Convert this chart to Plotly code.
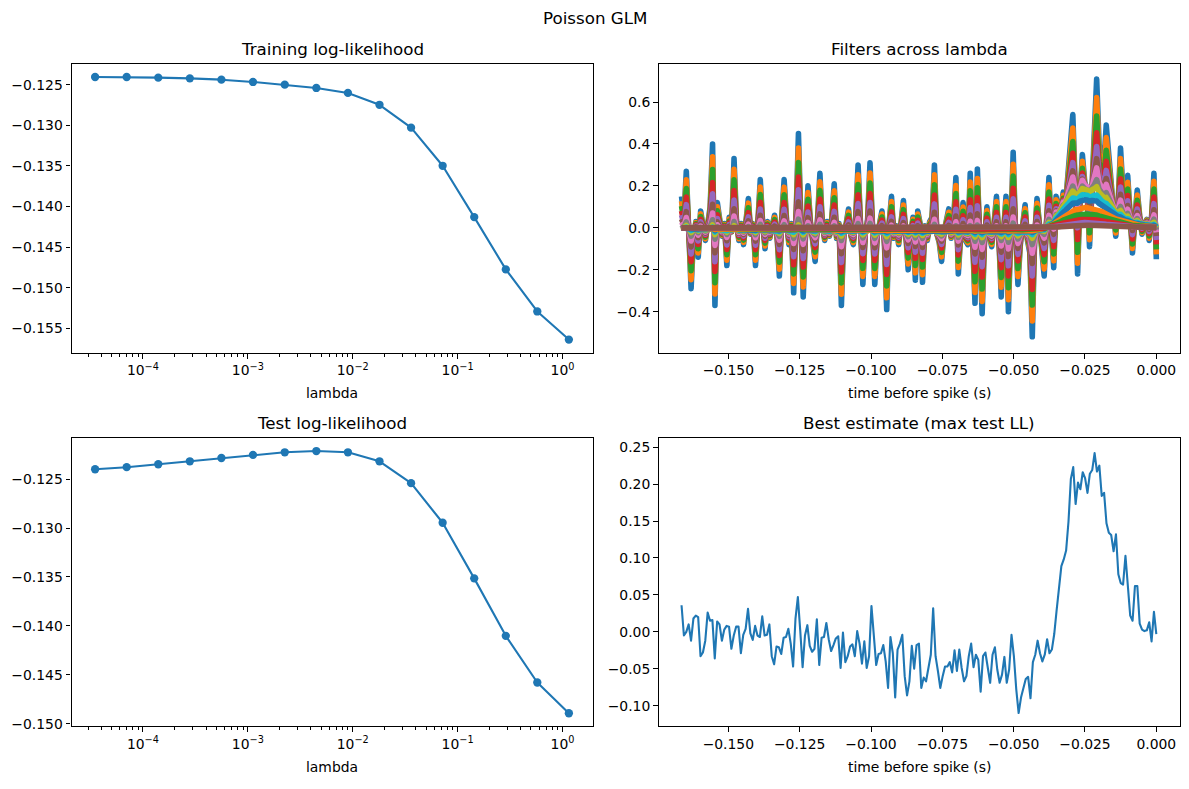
import numpy as np
import plotly.graph_objects as go

# ---------------- data ----------------
lambdas = [3.5e-5, 7.0e-5, 1.4e-4, 2.8e-4, 5.6e-4, 1.12e-3, 2.25e-3, 4.5e-3,
           9.0e-3, 1.8e-2, 3.6e-2, 7.2e-2, 0.144, 0.288, 0.575, 1.15]

train_ll = [-0.12406, -0.12406, -0.12414, -0.12423, -0.12439, -0.12467, -0.12500, -0.12541,
            -0.12602, -0.12748, -0.13029, -0.13498, -0.14129, -0.14772, -0.15289, -0.15635]

test_ll = [-0.12399, -0.12378, -0.12348, -0.12318, -0.12284, -0.12253, -0.12226, -0.12213,
           -0.12226, -0.12318, -0.12541, -0.12946, -0.13514, -0.14101, -0.14578, -0.14892]

# least-regularised filter (outermost envelope in "Filters across lambda")
raw_filter = [
    0.15, 0.05, 0.27, 0.02, -0.29, -0.05, 0.03, -0.14, 0.08, 0.01,
    -0.06, 0.02, 0.10, 0.40, -0.37, 0.12, 0.03, -0.04, 0.02, -0.18,
    0.05, -0.02, 0.33, 0.04, -0.06, 0.02, -0.08, 0.04, 0.14, -0.03,
    0.02, -0.18, 0.05, 0.23, 0.02, -0.10, 0.03, -0.05, 0.01, 0.06,
    -0.03, -0.23, 0.05, 0.23, 0.04, -0.08, 0.02, -0.31, 0.05, 0.45,
    0.03, -0.33, -0.02, 0.20, 0.03, -0.05, -0.16, 0.04, 0.26, 0.02,
    -0.06, 0.03, -0.04, 0.05, 0.21, -0.05, 0.02, -0.37, -0.03, 0.02,
    0.09, -0.04, -0.08, 0.05, 0.30, 0.02, -0.27, -0.03, 0.04, 0.31,
    0.03, -0.27, -0.04, 0.02, 0.08, -0.06, -0.39, 0.02, 0.15, -0.05,
    0.01, -0.08, 0.03, 0.13, -0.03, -0.20, -0.04, 0.05, -0.25, 0.08,
    0.02, -0.26, 0.01, -0.06, 0.03, 0.05, 0.30, -0.03, -0.07, -0.16,
    -0.02, 0.03, 0.09, -0.05, 0.02, 0.24, -0.22, -0.04, 0.12, -0.06,
    -0.08, 0.26, 0.02, -0.36, 0.28, -0.05, -0.41, -0.06, 0.10, -0.04,
    -0.09, 0.02, 0.15, -0.05, -0.33, -0.02, 0.15, -0.40, -0.04, 0.36,
    -0.02, -0.27, -0.08, 0.01, 0.11, -0.06, -0.12, -0.52, -0.05, 0.14,
    0.02, -0.07, -0.23, 0.03, 0.24, -0.02, -0.19, 0.15, 0.04, 0.10,
    0.17, 0.12, 0.25, 0.38, 0.54, 0.20, -0.22, 0.15, 0.35, 0.22,
    0.18, -0.09, 0.28, 0.45, 0.71, 0.40, 0.33, 0.30, 0.49, 0.36,
    0.22, 0.15, -0.04, 0.12, 0.38, 0.18, 0.10, 0.25, 0.05, -0.12,
    0.04, 0.18, 0.06, -0.03, 0.02, 0.04, -0.06, 0.05, 0.26, -0.15,
]

# smooth component left at strong regularisation (normalised)
smooth_filter = [
    -0.02, -0.02, -0.03, -0.03, -0.03, -0.04, -0.04, -0.04, -0.05, -0.05,
    -0.05, -0.05, -0.05, -0.06, -0.06, -0.06, -0.06, -0.06, -0.06, -0.06,
    -0.06, -0.06, -0.06, -0.06, -0.06, -0.06, -0.06, -0.07, -0.07, -0.07,
    -0.07, -0.07, -0.07, -0.07, -0.07, -0.07, -0.07, -0.07, -0.08, -0.08,
    -0.08, -0.08, -0.08, -0.08, -0.08, -0.08, -0.08, -0.08, -0.08, -0.08,
    -0.08, -0.08, -0.08, -0.09, -0.09, -0.09, -0.09, -0.09, -0.09, -0.09,
    -0.09, -0.09, -0.10, -0.10, -0.10, -0.10, -0.10, -0.10, -0.10, -0.10,
    -0.10, -0.10, -0.10, -0.10, -0.10, -0.10, -0.10, -0.10, -0.10, -0.10,
    -0.11, -0.11, -0.11, -0.11, -0.11, -0.11, -0.11, -0.11, -0.11, -0.11,
    -0.11, -0.11, -0.11, -0.11, -0.11, -0.11, -0.11, -0.11, -0.11, -0.11,
    -0.12, -0.12, -0.12, -0.12, -0.12, -0.12, -0.12, -0.12, -0.12, -0.12,
    -0.12, -0.12, -0.12, -0.12, -0.12, -0.12, -0.12, -0.12, -0.12, -0.12,
    -0.13, -0.13, -0.13, -0.13, -0.13, -0.13, -0.13, -0.13, -0.13, -0.13,
    -0.13, -0.13, -0.13, -0.13, -0.13, -0.13, -0.13, -0.13, -0.13, -0.13,
    -0.13, -0.13, -0.13, -0.13, -0.13, -0.12, -0.12, -0.11, -0.10, -0.09,
    -0.07, -0.05, -0.02, 0.02, 0.07, 0.13, 0.20, 0.28, 0.37, 0.46,
    0.55, 0.63, 0.71, 0.78, 0.84, 0.89, 0.93, 0.96, 0.98, 1.00,
    1.00, 0.99, 0.97, 0.94, 0.90, 0.85, 0.80, 0.74, 0.68, 0.62,
    0.56, 0.50, 0.45, 0.40, 0.35, 0.31, 0.27, 0.24, 0.21, 0.18,
    0.16, 0.14, 0.12, 0.11, 0.10, 0.09, 0.08, 0.07, 0.06, 0.05,
]

# per-lambda weights of the detailed and smooth parts (read from layer heights)
detail_weight = [1.0, 0.85, 0.70, 0.55, 0.42, 0.30, 0.20, 0.12,
                 0.06, 0.03, 0.015, 0.007, 0.003, 0.001, 0.0, 0.0]
smooth_weight = [0.0, 0.02, 0.04, 0.07, 0.10, 0.13, 0.16, 0.16,
                 0.17, 0.15, 0.13, 0.095, 0.065, 0.04, 0.025, 0.012]

best_filter = [
    0.036, -0.005, 0.000, 0.010, -0.012, 0.018, 0.022, 0.020, -0.033, -0.028,
    -0.012, 0.026, 0.015, 0.016, -0.036, 0.014, 0.010, -0.012, 0.003, 0.008,
    0.007, -0.023, -0.005, 0.007, 0.007, -0.029, -0.004, 0.004, 0.031, -0.002,
    -0.011, 0.008, -0.005, -0.007, 0.021, -0.005, -0.004, 0.010, -0.033, -0.044,
    -0.020, -0.021, -0.030, -0.008, -0.007, 0.004, -0.016, -0.047, 0.018, 0.047,
    0.002, -0.048, -0.005, 0.009, -0.019, -0.027, -0.023, 0.017, -0.045, -0.008,
    -0.007, 0.012, -0.010, -0.026, -0.018, -0.009, -0.006, -0.049, -0.001, -0.041,
    -0.033, -0.020, -0.017, -0.033, 0.001, -0.016, -0.043, -0.013, -0.049, -0.033,
    0.035, -0.002, -0.045, -0.030, -0.029, -0.018, -0.040, -0.076, -0.007, -0.029,
    -0.089, -0.024, -0.016, -0.004, -0.060, -0.086, -0.067, -0.019, -0.050, -0.018,
    -0.016, -0.076, -0.062, -0.067, -0.049, -0.031, 0.032, -0.033, -0.053, -0.076,
    -0.060, -0.047, -0.047, -0.041, -0.055, -0.025, -0.053, -0.024, -0.049, -0.067,
    -0.060, -0.033, -0.016, -0.048, -0.031, -0.038, -0.081, -0.033, -0.028, -0.051,
    -0.069, -0.031, -0.021, -0.051, -0.069, -0.058, -0.034, -0.069, -0.051, -0.004,
    -0.033, -0.078, -0.110, -0.089, -0.078, -0.064, -0.061, -0.090, -0.041, -0.031,
    -0.012, -0.029, -0.040, -0.031, -0.010, -0.029, -0.024, -0.003, 0.029, 0.058,
    0.089, 0.098, 0.110, 0.149, 0.207, 0.223, 0.173, 0.202, 0.193, 0.216,
    0.208, 0.188, 0.214, 0.219, 0.242, 0.217, 0.225, 0.184, 0.188, 0.147,
    0.134, 0.131, 0.109, 0.132, 0.078, 0.066, 0.064, 0.103, 0.056, 0.022,
    0.015, 0.062, 0.062, 0.011, 0.003, 0.001, 0.002, 0.013, -0.013, 0.027, -0.003,
]

first_lag = -0.1664  # seconds before spike of the first filter tap

# ---------------- figure ----------------
W, H = 1189, 789
colors = ['#1f77b4', '#ff7f0e', '#2ca02c', '#d62728', '#9467bd',
          '#8c564b', '#e377c2', '#7f7f7f', '#bcbd22', '#17becf']
BLUE = '#1f77b4'
FONT = 'DejaVu Sans'
TICK = 13.9
TITLE = 16.7

def px_x(p):
    return p / W

def px_y(p):
    return 1 - p / H

xl = [px_x(71.5), px_x(592.5)]
xr = [px_x(659), px_x(1180)]
yt = [px_y(355), px_y(64.3)]
yb = [px_y(731), px_y(440.7)]

fig = go.Figure()

# training LL
fig.add_trace(go.Scatter(x=lambdas, y=train_ll, mode='lines+markers',
                         line=dict(color=BLUE, width=2.1),
                         marker=dict(color=BLUE, size=8.3),
                         xaxis='x', yaxis='y'))
# filters across lambda
raw = np.array(raw_filter)
smo = np.array(smooth_filter)
t_f = np.linspace(first_lag, 0, len(raw))
for k in range(len(lambdas)):
    filt = detail_weight[k] * raw + smooth_weight[k] * smo
    fig.add_trace(go.Scatter(x=t_f, y=filt, mode='lines',
                             line=dict(color=colors[k % 10], width=5.6),
                             xaxis='x2', yaxis='y2'))
# test LL
fig.add_trace(go.Scatter(x=lambdas, y=test_ll, mode='lines+markers',
                         line=dict(color=BLUE, width=2.1),
                         marker=dict(color=BLUE, size=8.3),
                         xaxis='x3', yaxis='y3'))
# best estimate
t_b = np.linspace(first_lag, 0, len(best_filter))
fig.add_trace(go.Scatter(x=t_b, y=best_filter, mode='lines',
                         line=dict(color=BLUE, width=2.1),
                         xaxis='x4', yaxis='y4'))

common = dict(showline=True, linecolor='black', linewidth=1.1, mirror=True,
              ticks='outside', ticklen=4.9, tickwidth=1.1, tickcolor='black',
              showgrid=False, zeroline=False,
              tickfont=dict(family=FONT, size=TICK, color='black'))

minor_vals = [m * 10.0 ** d for d in range(-5, 1) for m in range(2, 10)]
logx = dict(type='log', range=[-4.681, 0.286],
            tickvals=[1e-4, 1e-3, 1e-2, 1e-1, 1e0],
            ticktext=['10<sup>−4</sup>', '10<sup>−3</sup>', '10<sup>−2</sup>',
                      '10<sup>−1</sup>', '10<sup>0</sup>'],
            minor=dict(ticks='outside', ticklen=2.8, tickwidth=0.8,
                       tickcolor='black', tickmode='array', tickvals=minor_vals),
            **common)
timex = dict(range=[-0.1743, 0.0083], tickmode='linear', tick0=0, dtick=0.025,
             tickformat='.3f', **common)

fig.update_layout(
    width=W, height=H, margin=dict(l=0, r=0, t=0, b=0),
    paper_bgcolor='white', plot_bgcolor='white', showlegend=False,
    hovermode=False,
    xaxis=dict(domain=xl, anchor='y', **logx),
    yaxis=dict(domain=yt, anchor='x', range=[-0.15797, -0.12245],
               tickmode='linear', tick0=-0.125, dtick=0.005, tickformat='.3f', **common),
    xaxis2=dict(domain=xr, anchor='y2', **timex),
    yaxis2=dict(domain=yt, anchor='x2', range=[-0.596, 0.782],
                tickmode='linear', tick0=0, dtick=0.2, tickformat='.1f', **common),
    xaxis3=dict(domain=xl, anchor='y3', **logx),
    yaxis3=dict(domain=yb, anchor='x3', range=[-0.15026, -0.12079],
                tickmode='linear', tick0=-0.125, dtick=0.005, tickformat='.3f', **common),
    xaxis4=dict(domain=xr, anchor='y4', **timex),
    yaxis4=dict(domain=yb, anchor='x4', range=[-0.128, 0.2625],
                tickmode='linear', tick0=0, dtick=0.05, tickformat='.2f', **common),
)

def text(s, x, y, size):
    fig.add_annotation(text=s, x=x, y=y, xref='paper', yref='paper',
                       xanchor='center', yanchor='middle', showarrow=False,
                       font=dict(family=FONT, size=size, color='black'))

text('Poisson GLM', 0.5, px_y(18), TITLE)
text('Training log-likelihood', sum(xl) / 2, px_y(49), TITLE)
text('Filters across lambda', sum(xr) / 2, px_y(49), TITLE)
text('Test log-likelihood', sum(xl) / 2, px_y(426), TITLE)
text('Best estimate (max test LL)', sum(xr) / 2, px_y(426), TITLE)
text('lambda', sum(xl) / 2, px_y(396), TICK)
text('time before spike (s)', sum(xr) / 2, px_y(396), TICK)
text('lambda', sum(xl) / 2, px_y(772), TICK)
text('time before spike (s)', sum(xr) / 2, px_y(772), TICK)

post = ("var s=document.createElement('style');"
        "s.innerHTML='.js-plotly-plot .scatterlayer path.js-line{stroke-linejoin:round !important;}';"
        "document.head.appendChild(s);")
fig.write_html("out.html", post_script=post)
